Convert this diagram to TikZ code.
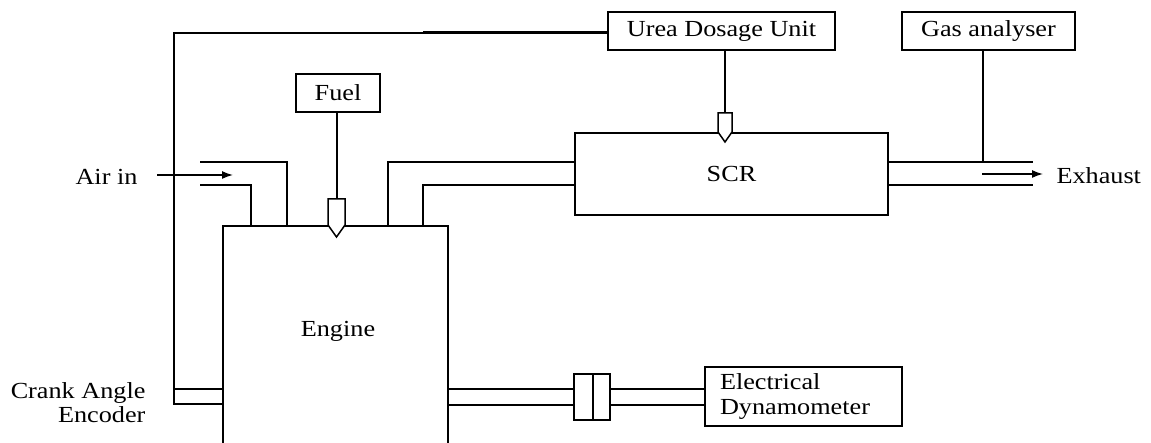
\documentclass[tikz,border=0pt]{standalone}
\usepackage{fontspec}
\setmainfont{Liberation Serif}[FakeStretch=1.14]
\usepackage{tikz}
\usetikzlibrary{arrows.meta,positioning,calc}

\tikzset{
  unit/.style={draw,line width=1.5pt,inner sep=0pt,minimum height=38pt},
  pipe/.style={line width=1.5pt},
  flow/.style={line width=1.5pt,-{Latex[length=11pt,width=8pt]}}
}

\begin{document}
\begin{tikzpicture}[x=1pt,y=-1pt,font=\fontsize{23}{25}\selectfont,every node/.style={align=center}]
  \useasboundingbox (0,0) rectangle (1151,443);
  \clip (0,0) rectangle (1151,443);
  % main blocks
  \node[unit,minimum width=225pt,minimum height=236pt] (engine) at (335.5,344) {};
  \node at (338,331) (englbl) {Engine};
  \node[unit,minimum width=313pt,minimum height=82pt] (scr) at (731.5,174) {SCR};
  \node[unit,minimum width=84pt] (fuel) at (338,93) {Fuel};
  \node[unit,minimum width=227pt] (urea) at (721.5,31) {Urea Dosage Unit};
  \node[unit,minimum width=173pt] (gas) at (988.5,31) {Gas analyser};
  \node[unit,minimum width=197pt,minimum height=59pt,text width=167pt,align=left] (dyno) at (803.5,396.5) {Electrical\\Dynamometer};
  \node[unit,minimum width=19pt,minimum height=46pt] (cupa) at (583.5,397) {};
  \node[unit,minimum width=17pt,minimum height=46pt] (cupb) at (601.5,397) {};
  % labels
  \node[anchor=east] (airlbl) at (141,177) {Air in};
  \node[anchor=west] (exlbl) at (1053,176) {Exhaust};
  \node[anchor=east,align=right,font=\fontsize{23}{24}\selectfont] (crank) at (149,403) {Crank Angle\\Encoder};
  % injectors
  \coordinate (finj) at (337,199);
  \coordinate (uinj) at (725,113);
  \draw[pipe,fill=white] (328,199) -- (345,199) -- (345,225) -- (336.5,237) -- (328,225) -- cycle;
  \draw[pipe,fill=white] (718,113) -- (732,113) -- (732,132) -- (725,142) -- (718,132) -- cycle;
  \draw[pipe] (fuel.south -| finj) -- (finj);
  \draw[pipe] (urea.south -| uinj) -- (uinj);
  % air inlet and exhaust pipes
  \draw[pipe] (200,162) -| (287,226);
  \draw[pipe] (200,185) -| (251,226);
  \draw[flow] (airlbl.east) ++(16,-2) -- (233,175);
  \draw[pipe] (388,226) |- (scr.west |- 0,162);
  \draw[pipe] (423,226) |- (scr.west |- 0,185);
  \draw[pipe] (scr.east |- 0,162) -- (1033,162);
  \draw[pipe] (scr.east |- 0,185) -- (1033,185);
  \coordinate (exend) at (1043,174);
  \draw[flow] (982,174) -- (exend);
  \coordinate (tap) at (983,162);
  \draw[pipe] (gas.south -| tap) -- (tap);
  % encoder signal
  \coordinate (bend) at (423,33);
  \draw[line width=3pt] (urea.west |- bend) -- (bend);
  \draw[pipe] (bend) -| (174,404) -- (engine.west |- 0,404);
  \draw[pipe] (174,389) -- (engine.west |- 0,389);
  % shaft to dynamometer
  \draw[pipe] (engine.east |- 0,389) -- (cupa.west |- 0,389);
  \draw[pipe] (engine.east |- 0,405) -- (cupa.west |- 0,405);
  \draw[pipe] (cupb.east |- 0,389) -- (dyno.west |- 0,389);
  \draw[pipe] (cupb.east |- 0,405) -- (dyno.west |- 0,405);
\end{tikzpicture}
\end{document}
